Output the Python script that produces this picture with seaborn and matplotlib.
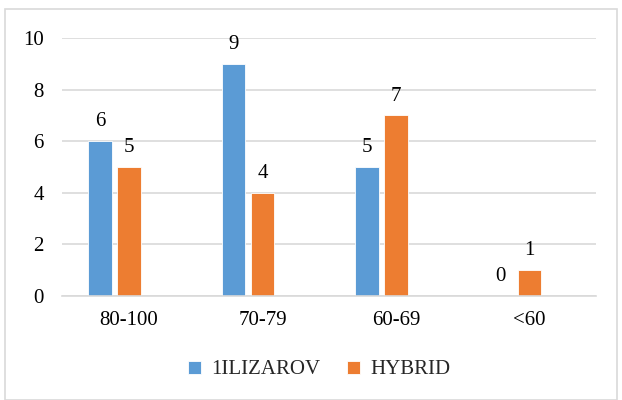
import pandas as pd
import numpy as np
import matplotlib
matplotlib.use('Agg')
import matplotlib.pyplot as plt
import matplotlib.patches as patches
import seaborn as sns

# data
categories = ['80-100', '70-79', '60-69', '<60']
ilizarov = [6, 9, 5, 0]
hybrid = [5, 4, 7, 1]
series_names = ['1ILIZAROV', 'HYBRID']

df = pd.DataFrame({
    'group': categories * 2,
    'value': ilizarov + hybrid,
    'series': [series_names[0]] * 4 + [series_names[1]] * 4,
})

sns.set_theme(style='white')
plt.rcParams['font.family'] = ['Liberation Serif', 'DejaVu Serif']
plt.rcParams['font.size'] = 15

fig = plt.figure(figsize=(6.22, 4.0), dpi=100)
ax = fig.add_axes([0.0997, 0.26, 0.8585, 0.645])

bar_w = 0.434
sns.barplot(data=df, x='group', y='value', hue='series', order=categories,
            hue_order=series_names, palette=['#5B9BD5', '#ED7D31'],
            saturation=1, width=bar_w, gap=0.2, edgecolor='white', linewidth=0.6,
            ax=ax)

for c in ax.containers:
    ax.bar_label(c, padding=7, fontsize=15, color='#000000')

# category label sits under the orange bar (Excel layout)
ax.set_xticks(np.arange(len(categories)) + bar_w / 4)
ax.set_xticklabels(categories)
ax.set_xlim(-0.393, 3.607)
ax.set_ylim(0, 10)
ax.set_yticks(range(0, 11, 2))
ax.yaxis.grid(True, color='#d9d9d9', linewidth=1.2)
ax.set_axisbelow(True)
for s in ['top', 'right', 'left']:
    ax.spines[s].set_visible(False)
ax.spines['bottom'].set_color('#d9d9d9')
ax.spines['bottom'].set_linewidth(1.2)
ax.tick_params(axis='y', length=0, pad=13, labelsize=15, colors='#000000')
ax.tick_params(axis='x', length=0, pad=11, labelsize=15, colors='#000000')
ax.set_xlabel('')
ax.set_ylabel('')

ax.legend(loc='center', bbox_to_anchor=(0.513, 0.075), bbox_transform=fig.transFigure,
          ncol=2, frameon=False, fontsize=15, handlelength=0.6, handleheight=0.6,
          handletextpad=0.5, columnspacing=1.3)

# chart border
fig.add_artist(patches.Rectangle((5 / 622, 0), 612 / 622, 391 / 400,
                                 transform=fig.transFigure, fill=False,
                                 edgecolor='#d9d9d9', linewidth=1.2))

fig.savefig('out.png', dpi=100)
